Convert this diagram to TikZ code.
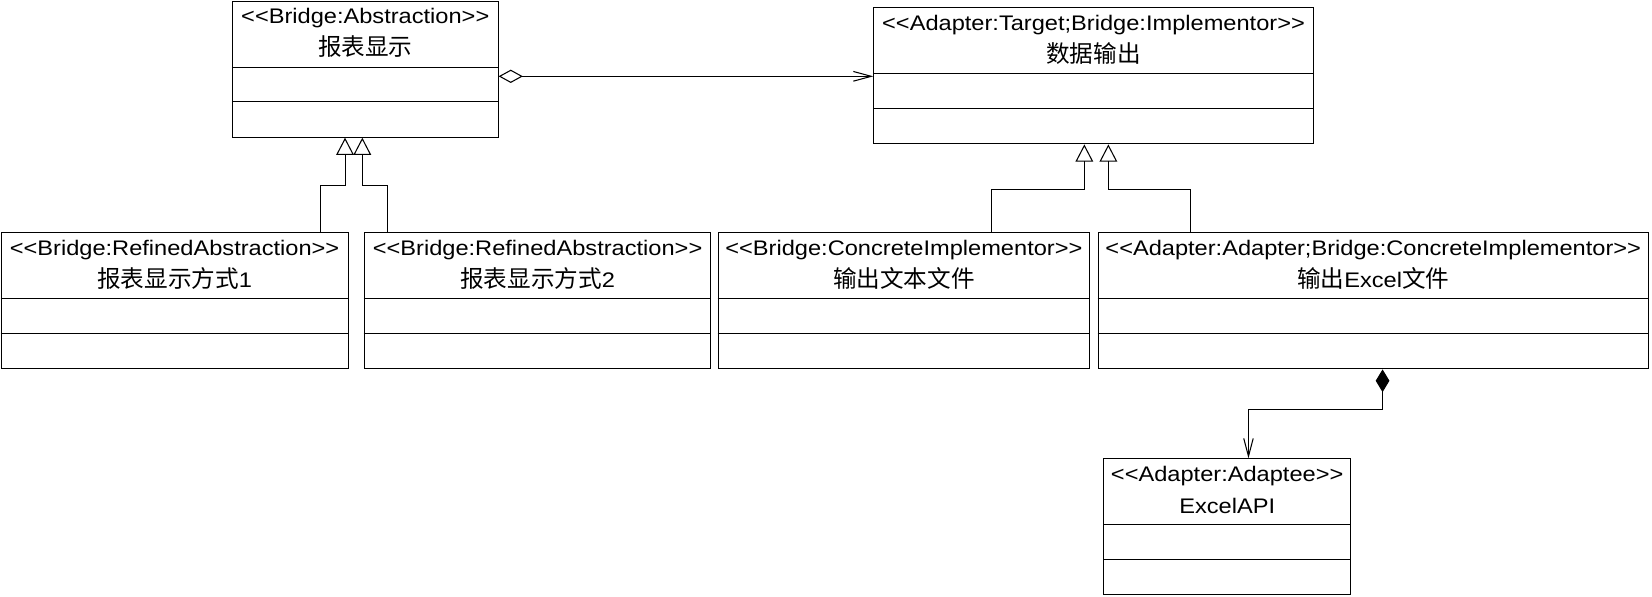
\documentclass[tikz,border=0pt]{standalone}
\usepackage{fontspec}
\setmainfont{Liberation Sans}[FakeStretch=1.12]
\newfontfamily\cjk{Noto Sans CJK SC}[Scale=1.12]
\usetikzlibrary{arrows.meta,calc}
\newcommand\ST[1]{<\kern0pt<#1>\kern0pt>}
\newcommand\umlclass[6]{%
  \node[clsframe, minimum width={(#3-#2)*0.5pt}, anchor=north west] (#1) at (#2,#4) {};
  \draw[clsline] ($(#1.north west)+(0,63)$) -- ($(#1.north east)+(0,63)$);
  \draw[clsline] ($(#1.north west)+(0,96)$) -- ($(#1.north east)+(0,96)$);
  \node[clstext] (#1-s) at ($(#1.north)+(0,21.6)$) {#5};
  \node[clstext] (#1-n) at ($(#1.north)+(0,52)$) {#6};
}
\tikzset{
  clsframe/.style={draw, line width=0.5pt, rectangle, inner sep=0pt, minimum height=64.5pt},
  clsline/.style={line width=0.5pt},
  clstext/.style={anchor=base, inner sep=0pt, font=\fontsize{10}{12}\selectfont},
  conn/.style={draw, line width=0.5pt},
  gen/.style={conn, -{Triangle[open, length=8.2pt, width=8.4pt]}},
  agg/.style={conn, {Diamond[open, length=11.5pt, width=6.3pt]}-{Straight Barb[length=8.5pt, width=4.6pt]}},
  comp/.style={conn, {Diamond[length=10.8pt, width=6.5pt]}-{Straight Barb[length=8.5pt, width=4.5pt]}},
}
\begin{document}
\begin{tikzpicture}[x=0.5pt, y=-0.5pt]
\fill[white] (0,0) rectangle (1567.1,566.3);
\useasboundingbox (0,0) rectangle (1567.1,566.3);

\umlclass{A}{220}{472}{0.6}{\ST{Bridge:Abstraction}}{\cjk 报表显示}
\umlclass{B}{828.4}{1245.2}{7}{\ST{Adapter:Target;Bridge:Implementor}}{\cjk 数据输出}
\umlclass{C1}{0.5}{329.7}{220.4}{\ST{Bridge:RefinedAbstraction}}{{\cjk 报表显示方式}1}
\umlclass{C2}{345}{673.9}{220.4}{\ST{Bridge:RefinedAbstraction}}{{\cjk 报表显示方式}2}
\umlclass{C3}{680.7}{1033.2}{220.4}{\ST{Bridge:ConcreteImplementor}}{\cjk 输出文本文件}
\umlclass{C4}{1041.3}{1563}{220.4}{\ST{Adapter:Adapter;Bridge:ConcreteImplementor}}{{\cjk 输出}Excel{\cjk 文件}}
\umlclass{D}{1046.3}{1280.9}{434.8}{\ST{Adapter:Adaptee}}{ExcelAPI}

% aggregation
\coordinate (aggS) at ($(A.north east)+(0,71.8)$);
\draw[agg] (aggS) -- (aggS -| B.west);

% generalizations to A
\coordinate (g1) at ($(C1.north west)+(303.5,0)$);
\coordinate (t1) at ($(A.south west)+(107.3,0)$);
\draw[gen] (g1) |- ($(t1)+(0,45.3)$) -- (t1);
\coordinate (g2) at ($(C2.north west)+(22.6,0)$);
\coordinate (t2) at ($(A.south west)+(123.7,0)$);
\draw[gen] (g2) |- ($(t2)+(0,45.3)$) -- (t2);

% generalizations to B
\coordinate (g3) at ($(C3.north west)+(260,0)$);
\coordinate (t3) at ($(B.south west)+(200.2,0)$);
\draw[gen] (g3) |- ($(t3)+(0,42.6)$) -- (t3);
\coordinate (g4) at ($(C4.north west)+(87.8,0)$);
\coordinate (t4) at ($(B.south west)+(223,0)$);
\draw[gen] (g4) |- ($(t4)+(0,42.6)$) -- (t4);

% composition
\coordinate (cS) at ($(C4.south west)+(270.2,0)$);
\coordinate (dT) at ($(D.north west)+(138,0)$);
\draw[comp] (cS) |- ($(dT)+(0,-45.9)$) -- (dT);
\end{tikzpicture}
\end{document}
